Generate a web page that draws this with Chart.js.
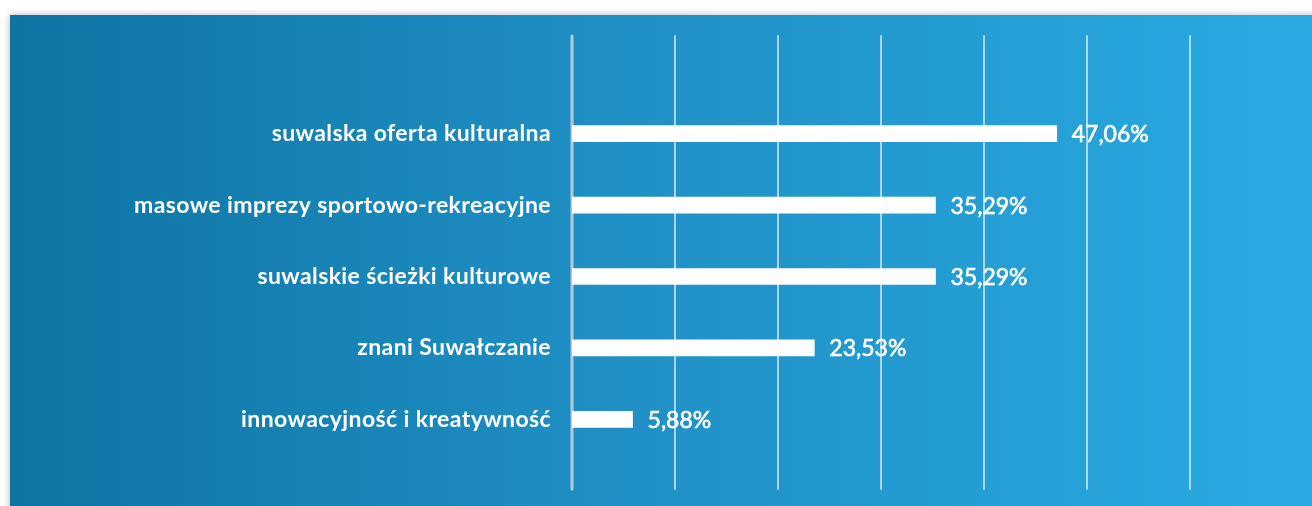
<!DOCTYPE html>
<html lang="pl">
<head>
    <meta charset="UTF-8">
    <title>Suwałki - wyniki</title>
    <script src="https://cdn.jsdelivr.net/npm/chart.js"></script>
    <style>
        html, body {
            margin: 0;
            padding: 0;
            background: #ffffff;
            width: 1312px;
            height: 506px;
            overflow: hidden;
        }
        .panel {
            position: absolute;
            left: 10px;
            top: 15px;
            width: 1310px;
            height: 500px;
            background: linear-gradient(to right, #0e74a3 0%, #1f8fc4 45%, #29abe2 100%);
            box-shadow: 0 0 7px rgba(0, 0, 0, 0.3);
        }
        #chart {
            position: absolute;
            left: 0;
            top: 0;
        }
    </style>
</head>
<body>
    <div class="panel">
        <canvas id="chart" width="1302" height="491"></canvas>
    </div>

    <script>
        // dane z wykresu
        const categories = [
            'suwalska oferta kulturalna',
            'masowe imprezy sportowo-rekreacyjne',
            'suwalskie ścieżki kulturowe',
            'znani Suwałczanie',
            'innowacyjność i kreatywność'
        ];
        const values = [47.06, 35.29, 35.29, 23.53, 5.88];
        const gridTicks = [0, 10, 20, 30, 40, 50, 60];

        const fmt = v => v.toFixed(2).replace('.', ',') + '%';

        // linie siatki i os rysowane recznie, zeby wychodzily poza obszar slupkow
        const gridPlugin = {
            id: 'gridPlugin',
            beforeDraw(chart) {
                chart.ctx.letterSpacing = '0.4px';
            },
            beforeDatasetsDraw(chart) {
                const ctx = chart.ctx;
                const x = chart.scales.x;
                const top = 21, bottom = 474;
                ctx.save();
                ctx.lineCap = 'round';
                gridTicks.forEach(t => {
                    const px = Math.round(x.getPixelForValue(t));
                    ctx.beginPath();
                    if (t === 0) {
                        ctx.strokeStyle = '#b3c9dc';
                        ctx.lineWidth = 3;
                    } else {
                        ctx.strokeStyle = 'rgba(215, 235, 248, 0.75)';
                        ctx.lineWidth = 2;
                    }
                    ctx.moveTo(px, top);
                    ctx.lineTo(px, bottom);
                    ctx.stroke();
                });
                ctx.restore();
            },
            afterDatasetsDraw(chart) {
                const ctx = chart.ctx;
                const meta = chart.getDatasetMeta(0);
                ctx.save();
                ctx.letterSpacing = '0px';
                ctx.fillStyle = '#ffffff';
                ctx.strokeStyle = '#ffffff';
                ctx.lineWidth = 0.6;
                ctx.font = 'normal 23px Lato';
                ctx.textAlign = 'left';
                ctx.textBaseline = 'middle';
                meta.data.forEach((bar, i) => {
                    ctx.fillText(fmt(values[i]), bar.x + 15, bar.y + 1);
                    ctx.strokeText(fmt(values[i]), bar.x + 15, bar.y + 1);
                });
                ctx.restore();
            }
        };

        const ctx = document.getElementById('chart').getContext('2d');
        new Chart(ctx, {
            type: 'bar',
            data: {
                labels: categories,
                datasets: [{
                    data: values,
                    backgroundColor: '#ffffff',
                    borderWidth: 0,
                    barThickness: 16
                }]
            },
            options: {
                indexAxis: 'y',
                responsive: false,
                animation: false,
                layout: {
                    padding: { left: 0, right: 122, top: 83, bottom: 51 }
                },
                plugins: {
                    legend: { display: false },
                    tooltip: { enabled: false }
                },
                scales: {
                    x: {
                        display: false,
                        min: 0,
                        max: 60
                    },
                    y: {
                        grid: { display: false },
                        border: { display: false },
                        afterFit: s => { s.width = 562; },
                        ticks: {
                            color: '#ffffff',
                            padding: 13,
                            font: { family: 'Lato', size: 23, weight: 'bold' }
                        }
                    }
                }
            },
            plugins: [gridPlugin]
        });
    </script>
</body>
</html>
